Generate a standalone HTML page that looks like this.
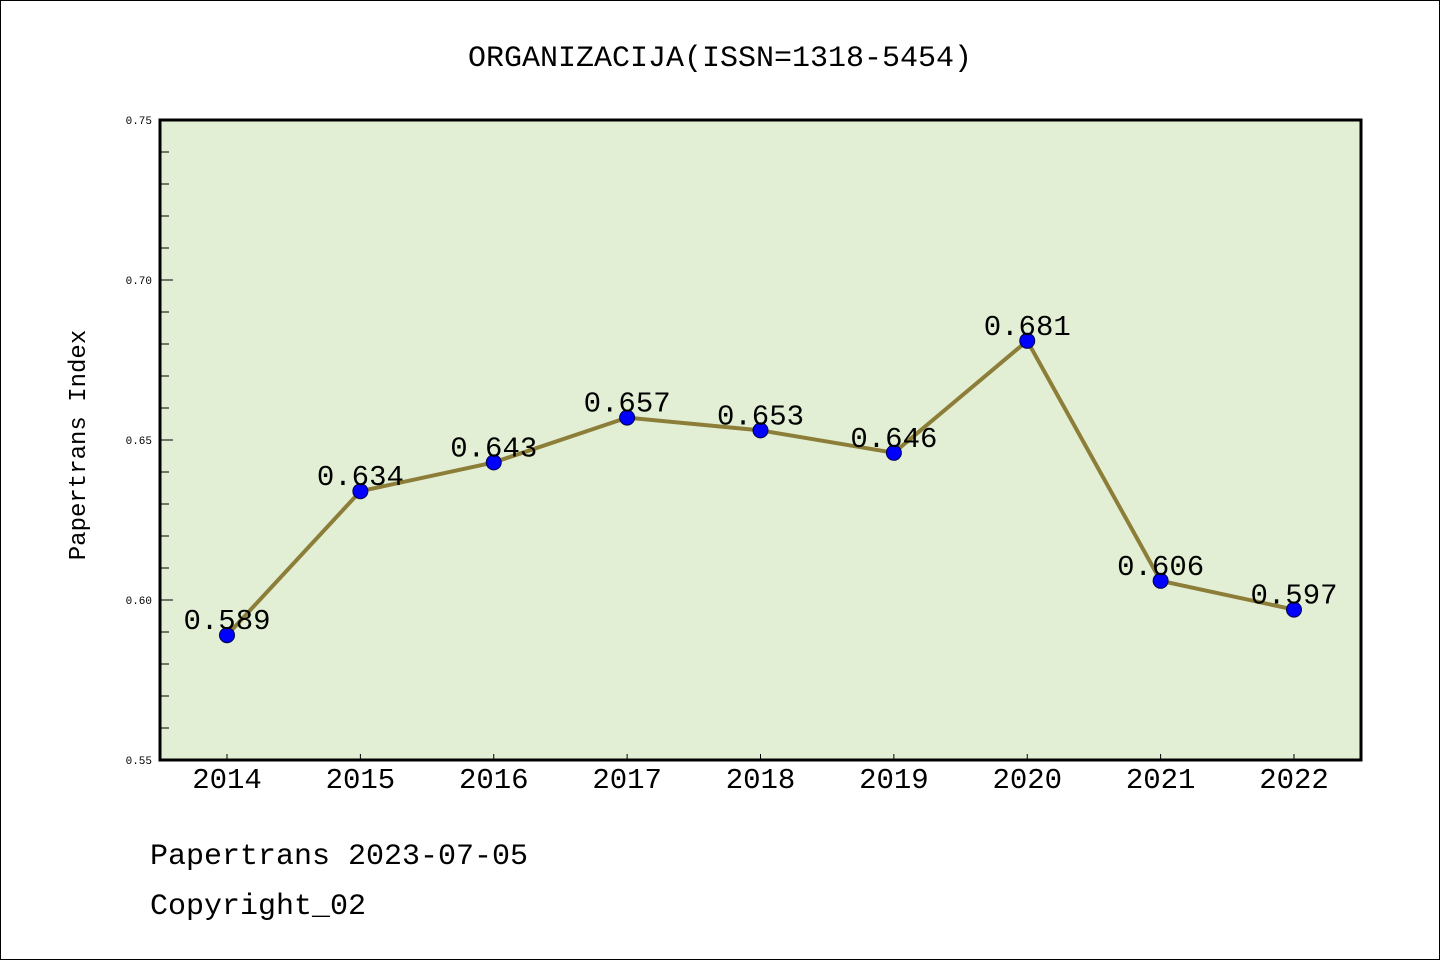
<!DOCTYPE html>
<html><head><meta charset="utf-8"><style>
body{margin:0;background:#fff}
svg{display:block}
text{font-family:"Liberation Mono","Noto Sans CJK SC",monospace}
</style></head><body>
<svg width="1440" height="960">
<rect x="0.5" y="0.5" width="1439" height="959" fill="#fff" stroke="#000"/>
<text x="720" y="66" font-size="30" text-anchor="middle">ORGANIZACIJA(ISSN=1318-5454)</text>
<rect x="160" y="120" width="1201" height="640" fill="#e2efd4"/>
<g id="ticks"></g>
<g id="series"></g>
<rect x="160" y="120" width="1201" height="640" fill="none" stroke="#000" stroke-width="3"/>
<text transform="translate(85,445) rotate(-90)" font-size="24" text-anchor="middle">Papertrans Index</text>
<text x="150" y="864" font-size="30">Papertrans 2023-07-05</text>
<text x="150" y="914" font-size="30">Copyright_02</text>
</svg>
<script>
const years=["2014","2015","2016","2017","2018","2019","2020","2021","2022"];
const values=[0.589,0.634,0.643,0.657,0.653,0.646,0.681,0.606,0.597];
const yTickLabels=["0.55","0.60","0.65","0.70","0.75"];
const NS="http://www.w3.org/2000/svg";
const x=i=>227+i*(1294-227)/(years.length-1);
const y=v=>760-(v-0.55)*3200;
function mk(t,a,p){const e=document.createElementNS(NS,t);for(const k in a)e.setAttribute(k,a[k]);p.appendChild(e);return e;}
const tg=document.getElementById('ticks'),sg=document.getElementById('series');
for(let k=0;k<=20;k++){const v=0.55+k*0.01;const major=k%5===0;
const l=mk('line',{x1:160,x2:major?173:169,y1:y(v),y2:y(v),stroke:'#000','stroke-width':1},tg);

}
yTickLabels.forEach(s=>{const t=mk('text',{x:152,y:y(+s)+4,'font-size':11,'text-anchor':'end','font-family':'Liberation Sans, sans-serif'},tg);t.textContent=s;

});
years.forEach((yr,i)=>{const l=mk('line',{x1:x(i),x2:x(i),y1:754,y2:760,stroke:'#000','stroke-width':1},tg);


const t=mk('text',{x:x(i),y:788,'font-size':29,'text-anchor':'middle','font-family':'Liberation Sans, sans-serif'},tg);t.textContent=yr;

});
const pl=mk('polyline',{points:values.map((v,i)=>x(i)+','+y(v)).join(' '),fill:'none',stroke:'#8c7e38','stroke-width':4},sg);


values.forEach((v,i)=>{const c=mk('circle',{cx:x(i),cy:y(v),r:7.5,fill:'#0000ff',stroke:'#00004a','stroke-width':1},sg);


const t=mk('text',{x:x(i),y:y(v)-6,'font-size':29,'text-anchor':'middle'},sg);t.textContent=v.toFixed(3);

});
</script>
</body></html>
